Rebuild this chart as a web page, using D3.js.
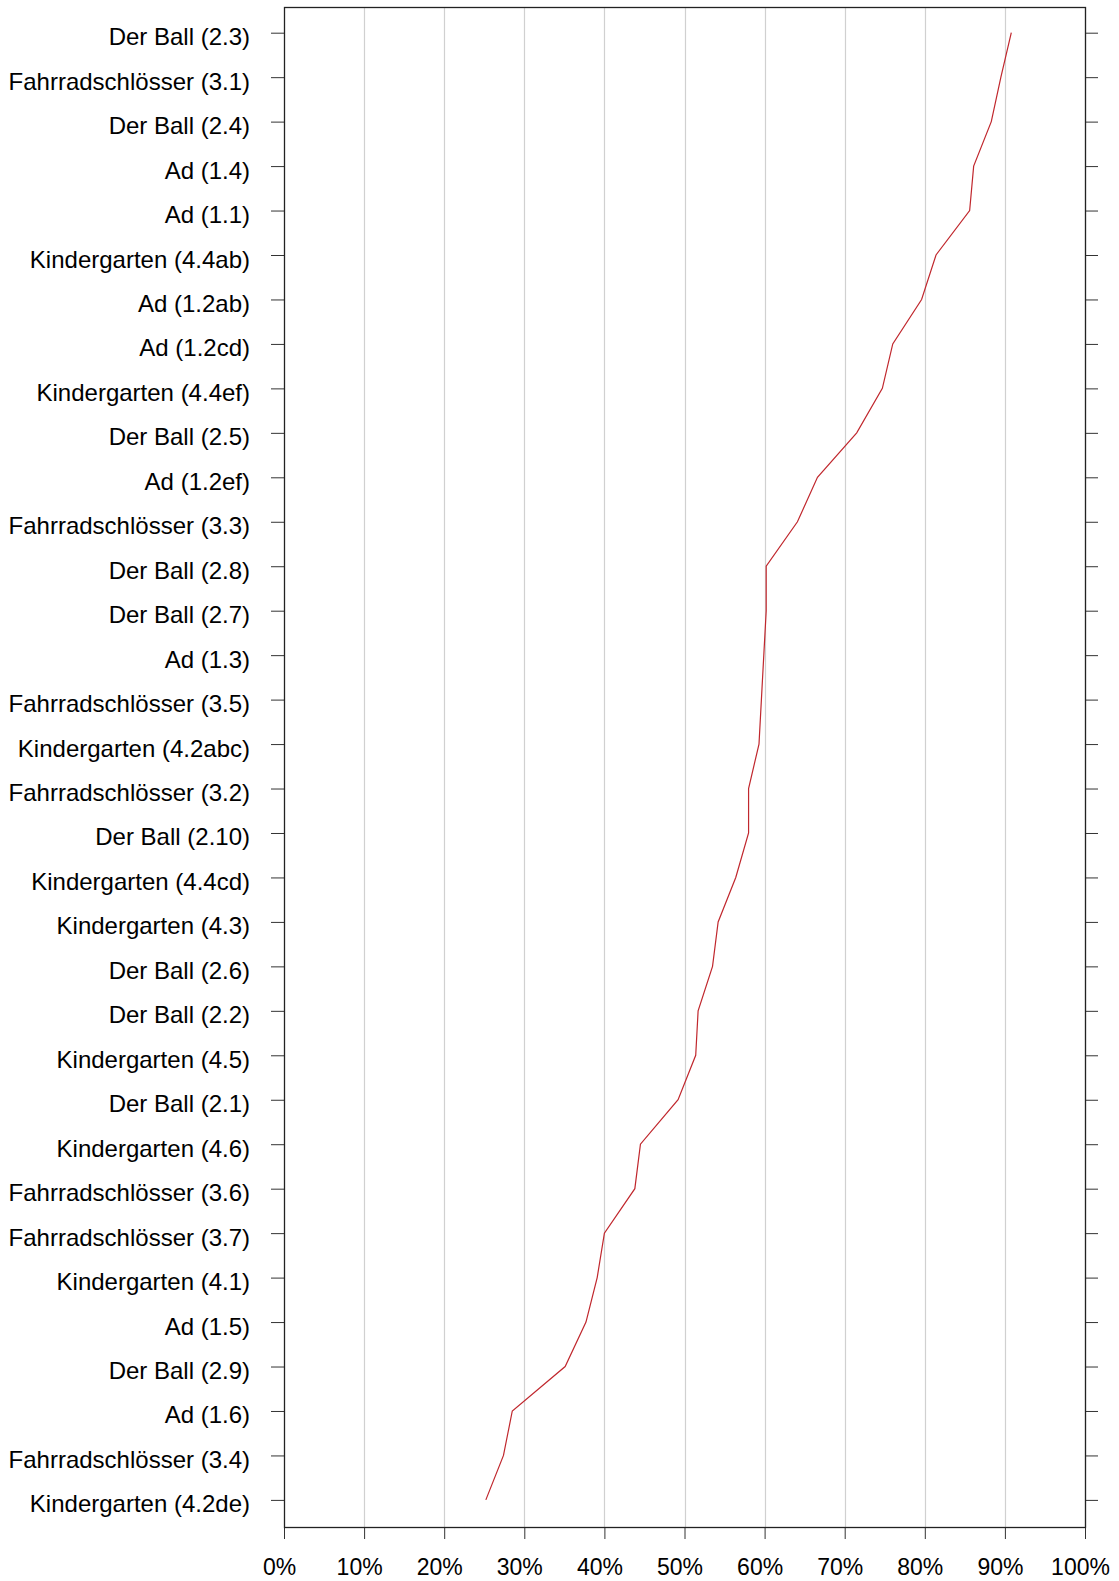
<!DOCTYPE html>
<html>
<head>
<meta charset="utf-8">
<script src="https://cdn.jsdelivr.net/npm/d3@7"></script>
<style>
  html, body { margin: 0; padding: 0; background: #fff; }
  svg { display: block; }
  text { font-family: "Liberation Sans", Arial, sans-serif; fill: #000; }
</style>
</head>
<body>
<svg id="chart" width="1119" height="1581"></svg>
<script>
const categories = [
  "Der Ball (2.3)", "Fahrradschlösser (3.1)", "Der Ball (2.4)", "Ad (1.4)", "Ad (1.1)",
  "Kindergarten (4.4ab)", "Ad (1.2ab)", "Ad (1.2cd)", "Kindergarten (4.4ef)", "Der Ball (2.5)",
  "Ad (1.2ef)", "Fahrradschlösser (3.3)", "Der Ball (2.8)", "Der Ball (2.7)", "Ad (1.3)",
  "Fahrradschlösser (3.5)", "Kindergarten (4.2abc)", "Fahrradschlösser (3.2)", "Der Ball (2.10)",
  "Kindergarten (4.4cd)", "Kindergarten (4.3)", "Der Ball (2.6)", "Der Ball (2.2)",
  "Kindergarten (4.5)", "Der Ball (2.1)", "Kindergarten (4.6)", "Fahrradschlösser (3.6)",
  "Fahrradschlösser (3.7)", "Kindergarten (4.1)", "Ad (1.5)", "Der Ball (2.9)", "Ad (1.6)",
  "Fahrradschlösser (3.4)", "Kindergarten (4.2de)"
];
const values = [
  90.8, 89.5, 88.3, 86.1, 85.6,
  81.4, 79.6, 76.0, 74.7, 71.5,
  66.6, 64.1, 60.2, 60.2, 59.9,
  59.6, 59.3, 58.0, 58.0,
  56.4, 54.2, 53.5, 51.7,
  51.4, 49.2, 44.5, 43.8,
  40.0, 39.1, 37.7, 35.1, 28.5,
  27.4, 25.2
];
const xTicks = [0, 10, 20, 30, 40, 50, 60, 70, 80, 90, 100];
const xTickLabels = ["0%", "10%", "20%", "30%", "40%", "50%", "60%", "70%", "80%", "90%", "100%"];

const pLeft = 284, pRight = 1085, pTop = 7, pBottom = 1527;
const svg = d3.select("#chart");

const x = d3.scaleLinear().domain([0, 100]).range([pLeft, pRight]);
const y = d3.scalePoint().domain(categories).range([32.7, 1499.9]).padding(0);

// gridlines
svg.append("g").selectAll("line").data(xTicks.filter(d => d > 0)).join("line")
  .attr("x1", d => Math.round(x(d)) + 0.5).attr("x2", d => Math.round(x(d)) + 0.5)
  .attr("y1", pTop).attr("y2", pBottom)
  .attr("stroke", "#d0d0d0").attr("stroke-width", 1.2);

// left axis
const yAxisL = svg.append("g").attr("transform", `translate(${pLeft},0)`)
  .call(d3.axisLeft(y).tickSize(13).tickPadding(21));
yAxisL.select(".domain").remove();
yAxisL.selectAll("line").attr("stroke", "#333");
yAxisL.selectAll("text").attr("font-size", 24).attr("dy", "12").attr("fill", "#000")
  .attr("font-family", "'Liberation Sans', Arial, sans-serif");

// right axis (ticks only)
const yAxisR = svg.append("g").attr("transform", `translate(${pRight},0)`)
  .call(d3.axisRight(y).tickSize(13).tickFormat(""));
yAxisR.select(".domain").remove();
yAxisR.selectAll("line").attr("stroke", "#333");

// bottom axis
const xAxis = svg.append("g").attr("transform", `translate(0,${pBottom})`)
  .call(d3.axisBottom(x).tickValues(xTicks).tickSize(12)
    .tickFormat((d, i) => xTickLabels[i]));
xAxis.select(".domain").remove();
xAxis.selectAll("line").attr("stroke", "#333");
xAxis.selectAll("text").attr("font-size", 23).attr("y", 48).attr("dy", 0).attr("dx", -5).attr("fill", "#000")
  .attr("font-family", "'Liberation Sans', Arial, sans-serif");

// frame
svg.append("rect")
  .attr("x", pLeft + 0.5).attr("y", pTop + 0.5)
  .attr("width", pRight - pLeft).attr("height", pBottom - pTop)
  .attr("fill", "none").attr("stroke", "#222").attr("stroke-width", 1.3);

// line
const line = d3.line().x(d => x(d.v)).y(d => y(d.c));
svg.append("path")
  .datum(categories.map((c, i) => ({ c, v: values[i] })))
  .attr("d", line)
  .attr("fill", "none")
  .attr("stroke", "#c0272d")
  .attr("stroke-width", 1.2);
</script>
</body>
</html>
